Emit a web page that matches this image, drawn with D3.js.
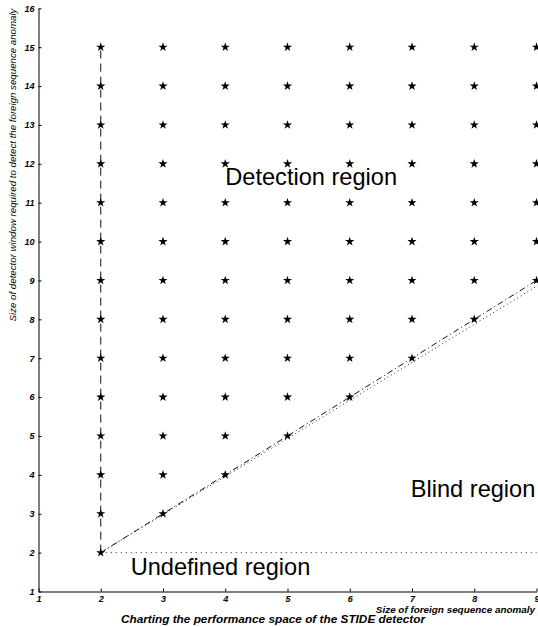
<!DOCTYPE html>
<html>
<head>
<meta charset="utf-8">
<script src="https://cdn.jsdelivr.net/npm/d3@7/dist/d3.min.js"></script>
<style>
  html, body { margin: 0; padding: 0; background: #fff; }
  svg { display: block; }
  text { font-family: "Liberation Sans", Arial, Helvetica, sans-serif; }
</style>
</head>
<body>
<svg id="chart" width="538" height="627"></svg>
<script>
// Anomaly sizes (x) and detector window sizes (y) examined
const anomalySizes = [2, 3, 4, 5, 6, 7, 8, 9];
const windowSizes = [2, 3, 4, 5, 6, 7, 8, 9, 10, 11, 12, 13, 14, 15];

// Axis ticks
const xTicks = [1, 2, 3, 4, 5, 6, 7, 8, 9];
const yTicks = [1, 2, 3, 4, 5, 6, 7, 8, 9, 10, 11, 12, 13, 14, 15, 16];

// Region boundaries (data coordinates)
const verticalBoundary = [[2, 2], [2, 15]];
const diagonalBoundary = [[2, 2], [9, 9]];
const diagonalGuide = [[2, 2], [9, 8.85]];
const undefinedBoundary = [[2, 2], [9, 2]];

// Region labels, anchored in data coordinates
const regionLabels = [
  { text: "Detection region", x: 4.0, y: 11.45 },
  { text: "Blind region", x: 6.98, y: 3.42 },
  { text: "Undefined region", x: 2.48, y: 1.42 }
];

const svg = d3.select("#chart");
const x = d3.scaleLinear().domain([1, 9]).range([38.5, 536.5]);
const y = d3.scaleLinear().domain([1, 16]).range([591.5, 8.3]);

// Axes (inward ticks, no box)
const xAxis = d3.axisBottom(x).tickValues(xTicks).tickFormat(d3.format("d"))
  .tickSizeInner(-3).tickSizeOuter(0).tickPadding(4);
const yAxis = d3.axisLeft(y).tickValues(yTicks).tickFormat(d3.format("d"))
  .tickSizeInner(-3).tickSizeOuter(0).tickPadding(4);

const gx = svg.append("g").attr("transform", `translate(0,${y(1)})`).call(xAxis);
const gy = svg.append("g").attr("transform", `translate(${x(1)},0)`).call(yAxis);
[gx, gy].forEach(g => {
  g.selectAll("path.domain").attr("stroke", "#000").attr("stroke-width", 1);
  g.selectAll(".tick line").attr("stroke", "#000");
  g.selectAll(".tick text")
    .attr("font-family", "Liberation Sans, Arial, sans-serif")
    .attr("font-size", 9).attr("font-weight", "bold").attr("font-style", "italic")
    .attr("fill", "#000");
});

const line = d3.line().x(d => x(d[0])).y(d => y(d[1]));

svg.append("path").datum(verticalBoundary).attr("d", line)
  .attr("fill", "none").attr("stroke", "#111").attr("stroke-width", 1)
  .attr("stroke-dasharray", "8,5");
svg.append("path").datum(diagonalBoundary).attr("d", line)
  .attr("fill", "none").attr("stroke", "#111").attr("stroke-width", 1)
  .attr("stroke-dasharray", "6,3,1,3");
svg.append("path").datum(diagonalGuide).attr("d", line)
  .attr("fill", "none").attr("stroke", "#222").attr("stroke-width", 1)
  .attr("stroke-dasharray", "1,3");
svg.append("path").datum(undefinedBoundary).attr("d", line)
  .attr("fill", "none").attr("stroke", "#222").attr("stroke-width", 1)
  .attr("stroke-dasharray", "1,4");

// Detectable (anomaly size, window size) pairs: window at least as large as the anomaly
const points = [];
anomalySizes.forEach(a => windowSizes.forEach(w => { if (w >= a) points.push([a, w]); }));

const star = d3.symbol().type(d3.symbolStar).size(26);
svg.append("g").selectAll("path").data(points).join("path")
  .attr("d", star)
  .attr("transform", d => `translate(${x(d[0])},${y(d[1])})`)
  .attr("fill", "#000");

// Region labels
svg.append("g").selectAll("text").data(regionLabels).join("text")
  .attr("x", d => x(d.x)).attr("y", d => y(d.y))
  .attr("font-size", 23.6).attr("fill", "#000")
  .text(d => d.text);

// Axis titles
svg.append("text")
  .attr("transform", "translate(16,165) rotate(-90)")
  .attr("text-anchor", "middle")
  .attr("font-size", 9.7).attr("font-style", "italic").attr("fill", "#000")
  .text("Size of detector window required to detect the foreign sequence anomaly");

svg.append("text")
  .attr("x", 535).attr("y", 613)
  .attr("text-anchor", "end")
  .attr("font-size", 9.9).attr("font-weight", "bold").attr("font-style", "italic").attr("fill", "#000")
  .text("Size of foreign sequence anomaly");

svg.append("text")
  .attr("x", 273).attr("y", 622.5)
  .attr("text-anchor", "middle")
  .attr("font-size", 11.8).attr("font-weight", "bold").attr("font-style", "italic").attr("fill", "#000")
  .text("Charting the performance space of the STIDE detector");
</script>
</body>
</html>
